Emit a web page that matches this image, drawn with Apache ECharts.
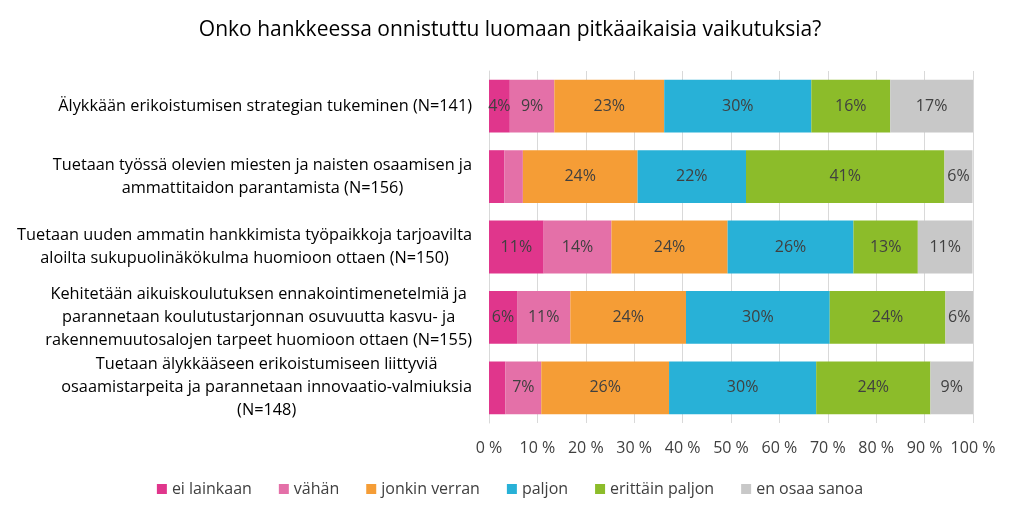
<!DOCTYPE html>
<html><head><meta charset="utf-8">
<script src="https://cdn.jsdelivr.net/npm/echarts@6/dist/echarts.min.js"></script>
<style>html,body{margin:0;padding:0;background:#fff}#c{width:1020px;height:521px}</style>
</head><body><div id="c"></div>
<script>
const titleText = 'Onko hankkeessa onnistuttu luomaan pitkäaikaisia vaikutuksia?';
const categories = [
  'Älykkään erikoistumisen strategian tukeminen (N=141)',
  'Tuetaan työssä olevien miesten ja naisten osaamisen ja\nammattitaidon parantamista (N=156)',
  'Tuetaan uuden ammatin hankkimista työpaikkoja tarjoavilta\naloilta sukupuolinäkökulma huomioon ottaen (N=150)',
  'Kehitetään aikuiskoulutuksen ennakointimenetelmiä ja\nparannetaan koulutustarjonnan osuvuutta kasvu- ja\nrakennemuutosalojen tarpeet huomioon ottaen (N=155)',
  'Tuetaan älykkääseen erikoistumiseen liittyviä\nosaamistarpeita ja parannetaan innovaatio-valmiuksia\n(N=148)'
];
const seriesNames = ['ei lainkaan', 'vähän', 'jonkin verran', 'paljon', 'erittäin paljon', 'en osaa sanoa'];
const eiLainkaan    = [4.3, 3.2, 11.3, 5.8, 3.4];
const vahan         = [9.2, 3.8, 14.0, 11.0, 7.4];
const jonkinVerran  = [22.7, 23.7, 24.0, 23.9, 26.4];
const paljon        = [30.4, 22.4, 26.0, 29.7, 30.4];
const erittainPaljon= [16.3, 41.0, 13.3, 23.9, 23.6];
const enOsaaSanoa   = [17.1, 5.8, 11.3, 5.8, 8.8];
const xTicks = [0, 10, 20, 30, 40, 50, 60, 70, 80, 90, 100];
const colors = ['#E0368C', '#E470A8', '#F59D36', '#28B1D7', '#8CBC2A', '#C8C8C8'];

const values = [eiLainkaan, vahan, jonkinVerran, paljon, erittainPaljon, enOsaaSanoa];
const FONT = 'Open Sans';
const chart = echarts.init(document.getElementById('c'));
chart.setOption({
  animation: false,
  title: { text: titleText, left: 'center', top: 15,
    textStyle: { fontFamily: FONT, fontSize: 21, fontWeight: 'normal', color: '#000' } },
  legend: {
    bottom: 19, left: 'center', itemWidth: 10, itemHeight: 10, itemGap: 27,
    icon: 'rect',
    textStyle: { fontFamily: FONT, fontSize: 16, color: '#404040' },
    data: seriesNames
  },
  grid: { left: 489, right: 47, top: 71, bottom: 98, containLabel: false },
  xAxis: {
    type: 'value', min: xTicks[0], max: xTicks[xTicks.length - 1], interval: 10,
    axisLine: { show: false }, axisTick: { show: false },
    splitLine: { lineStyle: { color: '#D9D9D9', width: 1 } },
    axisLabel: { formatter: '{value} %', margin: 17, fontFamily: FONT, fontSize: 16, color: '#404040' }
  },
  yAxis: {
    type: 'category', inverse: true, data: categories,
    axisLine: { show: true, lineStyle: { color: '#D9D9D9' } }, axisTick: { show: false },
    axisLabel: {
      margin: 17, align: 'right', lineHeight: 23,
      fontFamily: FONT, fontSize: 16.3, color: '#000',
      formatter: v => v.split('\n').map(l => '{c|' + l + '}').join('\n'),
      rich: { c: { align: 'center', fontFamily: FONT, fontSize: 16.3, color: '#000', lineHeight: 23 } }
    }
  },
  series: values.map((arr, i) => ({
    name: seriesNames[i], type: 'bar', stack: 'total', barWidth: '75%',
    itemStyle: { color: colors[i] },
    label: {
      show: true, position: 'inside', fontFamily: FONT, fontSize: 16, color: '#404040',
      formatter: p => p.value < 4 ? '' : Math.round(p.value) + '%'
    },
    data: arr
  }))
});
</script></body></html>
